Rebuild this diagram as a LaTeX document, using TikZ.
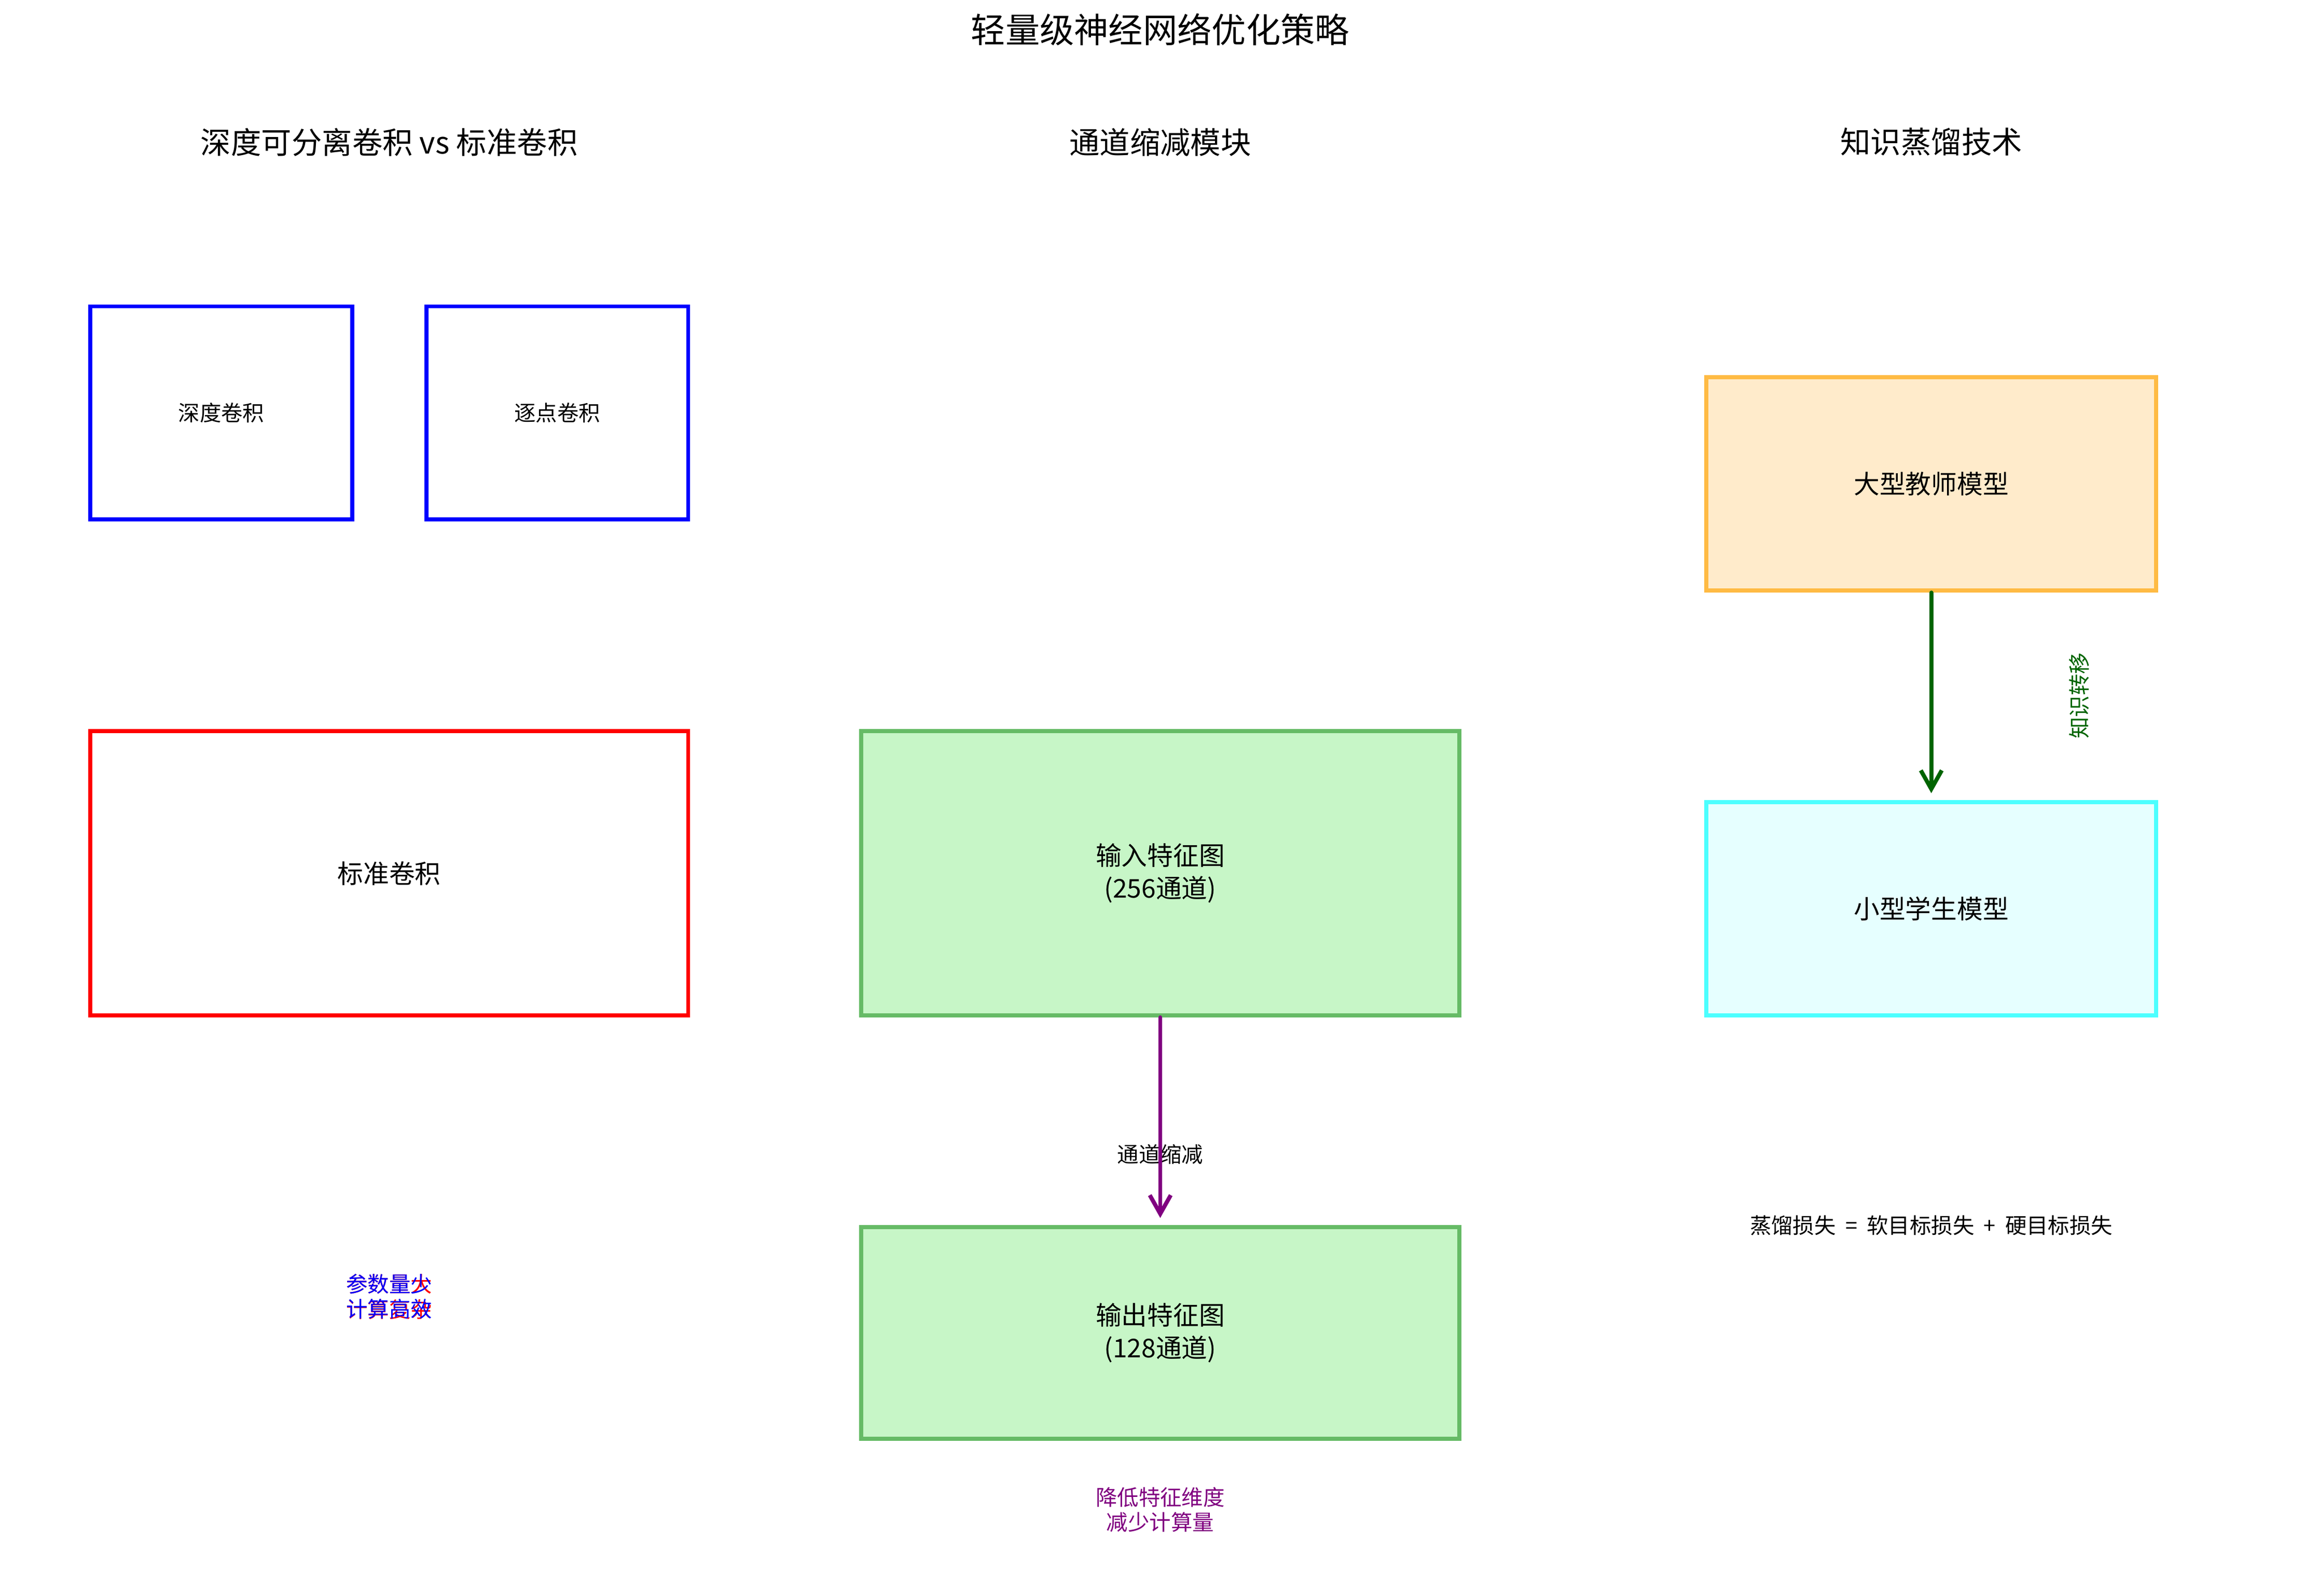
\documentclass[tikz,border=0pt]{standalone}
\usepackage{fontspec}
\setmainfont{Noto Sans CJK SC}
\usetikzlibrary{arrows.meta}
\definecolor{boxgreen}{RGB}{199,246,199}
\definecolor{edgegreen}{RGB}{102,187,102}
\definecolor{boxorange}{RGB}{255,235,203}
\definecolor{edgeorange}{RGB}{255,187,68}
\definecolor{boxcyan}{RGB}{230,255,255}
\definecolor{edgecyan}{RGB}{76,255,255}
\definecolor{arrgreen}{RGB}{0,100,0}
\definecolor{arrpurple}{RGB}{128,0,128}
\tikzset{
  blk/.style 2 args={draw, line width=2pt, minimum width=#1*0.254mm, minimum height=#2*0.254mm, inner sep=0pt, align=center},
  ttl/.style={font=\fontsize{16.8pt}{20pt}\selectfont},
  sub/.style={font=\fontsize{14.8pt}{18pt}\selectfont},
  big/.style={font=\fontsize{12.6pt}{15.8pt}\selectfont},
  sml/.style={font=\fontsize{10.5pt}{12.3pt}\selectfont, align=center},
  arr/.style={line width=2pt, line cap=round, -{Straight Barb[length=3.2mm, width=3.6mm, line width=2pt]}},
}

\begin{document}
\begin{tikzpicture}[x=0.254mm, y=-0.254mm]
    \useasboundingbox (0,0) rectangle (1567,1078);
    \node[ttl] (title) at (784, 20) {轻量级神经网络优化策略};
    \node[sub] (t1) at (263, 96) {深度可分离卷积 vs 标准卷积};
    \node[sub] (t2) at (784, 96) {通道缩减模块};
    \node[sub] (t3) at (1305, 96) {知识蒸馏技术};
    \node[blk={177}{144}, draw=blue, sml] (dw) at (149.5, 279) {深度卷积};
    \node[blk={177}{144}, draw=blue, sml] (pw) at (376.5, 279) {逐点卷积};
    \node[blk={404}{192}, draw=red, big] (std) at (263, 590) {标准卷积};
    \node[sml, text=red] (cost) at (263, 876) {参数量大\\计算复杂};
    \node[sml, text=blue] (gain) at (263, 876) {参数量少\\计算高效};
    \node[blk={404}{192}, draw=edgegreen, fill=boxgreen, big] (fin) at (784, 590) {输入特征图\\(256通道)};
    \node[blk={404}{143}, draw=edgegreen, fill=boxgreen, big] (fout) at (784, 900.5) {输出特征图\\(128通道)};
    \node[sml] (red) at (784, 780) {通道缩减};
    \node[sml, text=arrpurple] (note) at (784, 1020) {降低特征维度\\减少计算量};
    \node[blk={304}{144}, draw=edgeorange, fill=boxorange, big] (tch) at (1305, 327) {大型教师模型};
    \node[blk={304}{144}, draw=edgecyan, fill=boxcyan, big] (stu) at (1305, 614) {小型学生模型};
    \node[sml, text=arrgreen, rotate=90] (kt) at (1405, 470) {知识转移};
    \node[sml] (loss) at (1305, 828) {蒸馏损失\hspace{0.8mm} = \hspace{0.8mm}软目标损失\hspace{0.8mm} + \hspace{0.8mm}硬目标损失};
    \draw[arr, arrpurple, shorten >=1.2mm] (fin) to (fout);
    \draw[arr, arrgreen, shorten >=1.2mm] (tch) to (stu);
\end{tikzpicture}
\end{document}
